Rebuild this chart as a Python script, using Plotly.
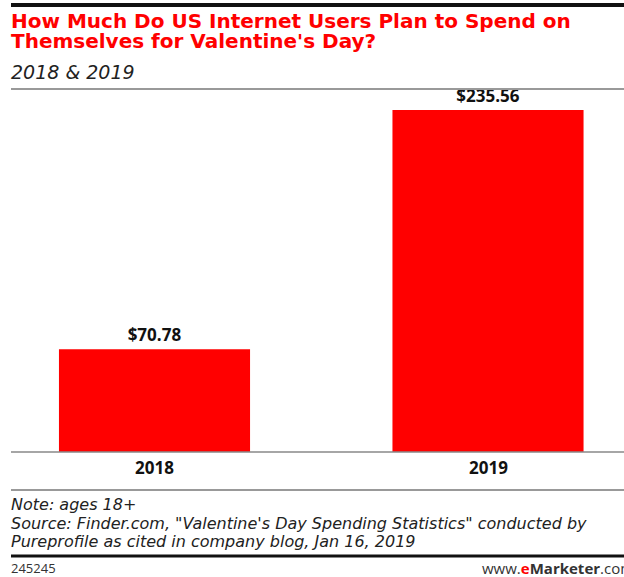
import plotly.graph_objects as go

categories = ["2018", "2019"]
values = [70.78, 235.56]
labels = ["$70.78", "$235.56"]

W, H = 624, 577
def py(px):  # pixel y -> paper
    return (H - px) / H
def pxx(px):
    return px / W

FONT = "Open Sans"
WIDE = "DejaVu Sans"
RED = "#FF0000"

fig = go.Figure(go.Bar(
    x=categories, y=values, text=labels, textposition="outside",
    textfont=dict(family=FONT, size=17, color="#111111", weight="bold"),
    marker=dict(color=RED, line=dict(width=0)), width=0.573, cliponaxis=False,
    hoverinfo="skip",
))

fig.update_layout(
    width=W, height=H, margin=dict(l=0, r=0, t=0, b=0),
    paper_bgcolor="white", plot_bgcolor="white", showlegend=False,
    xaxis=dict(type="category", domain=[0, 1], range=[-0.4633, 1.4078], showgrid=False,
               showline=False, zeroline=False, ticks="", showticklabels=False),
    yaxis=dict(domain=[py(452), py(95)], range=[0, 245.9], showgrid=False,
               showline=False, zeroline=False, ticks="", showticklabels=False),
)

x0 = pxx(11)
shapes = [
    dict(type="line", xref="paper", yref="paper", x0=x0, x1=1, y0=py(5), y1=py(5),
         line=dict(color="#111111", width=4)),
    dict(type="line", xref="paper", yref="paper", x0=x0, x1=1, y0=py(89), y1=py(89),
         line=dict(color="#999999", width=2)),
    dict(type="line", xref="paper", yref="paper", x0=x0, x1=1, y0=py(452), y1=py(452),
         line=dict(color="#888888", width=1.5)),
    dict(type="line", xref="paper", yref="paper", x0=x0, x1=1, y0=py(490), y1=py(490),
         line=dict(color="#999999", width=2)),
    dict(type="line", xref="paper", yref="paper", x0=x0, x1=1, y0=py(556), y1=py(556),
         line=dict(color="#111111", width=3)),
]
fig.update_layout(shapes=shapes)

def ann(text, x, y, size, color="#222222", xanchor="left", italic=False, bold=False, family=FONT):
    fig.add_annotation(text=text, x=x, y=y, xref="paper", yref="paper",
                       xanchor=xanchor, yanchor="middle", showarrow=False,
                       font=dict(family=family, size=size, color=color,
                                 style="italic" if italic else "normal",
                                 weight="bold" if bold else "normal"))

ann("How Much Do US Internet Users Plan to Spend on", pxx(9), py(21), 20, RED, bold=True, family=WIDE)
ann("Themselves for Valentine's Day?", pxx(9), py(41), 20, RED, bold=True, family=WIDE)
ann("2018 & 2019", pxx(9), py(72), 19, "#222222", italic=True, family=WIDE)

for i, c in enumerate(categories):
    fig.add_annotation(text=c, x=i, y=py(467), xref="x", yref="paper", showarrow=False,
                       yanchor="middle", font=dict(family=FONT, size=17, color="#111111", weight="bold"))

ann("Note: ages 18+", pxx(9), py(505), 16, "#222222", italic=True, family=WIDE)
ann("Source: Finder.com, \"Valentine's Day Spending Statistics\" conducted by", pxx(9), py(523), 16, "#222222", italic=True, family=WIDE)
ann("Pureprofile as cited in company blog, Jan 16, 2019", pxx(9), py(541), 16, "#222222", italic=True, family=WIDE)
ann("245245", pxx(9), py(568), 13, "#333333")
ann("www.<span style='color:#FF0000'><b>e</b></span><b>Marketer</b>.com", pxx(636), py(568), 15, "#333333", xanchor="right")

fig.write_html("out.html")
